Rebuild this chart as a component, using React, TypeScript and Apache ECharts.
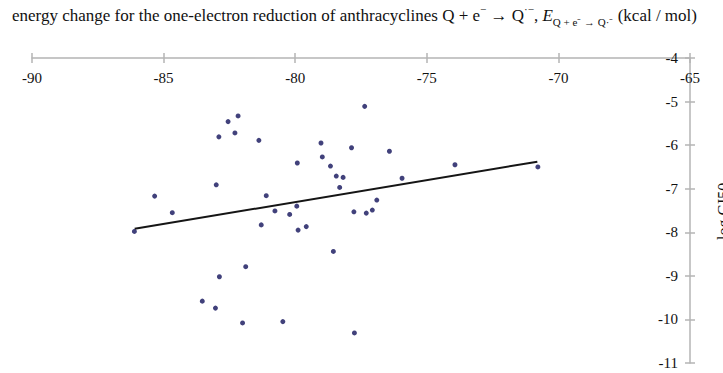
import React, { useEffect, useRef } from "react";
import * as echarts from "echarts";

// Scatter data: [energy change (kcal/mol), log GI50]
const energyValues: number[] = [
  -86.11, -85.34, -84.67, -82.17, -82.55, -82.29, -82.9, -81.38, -83.0, -81.1,
  -79.92, -79.94, -80.77, -80.21, -81.29, -79.89, -79.58, -81.88, -82.88, -83.53,
  -83.03, -82.0, -80.47, -77.36, -79.02, -78.97, -77.86, -76.42, -78.66, -78.44,
  -78.18, -78.31, -73.93, -70.78, -75.94, -76.9, -77.77, -77.3, -77.07, -78.55,
  -77.75,
];
const logGIValues: number[] = [
  -7.98, -7.17, -7.55, -5.33, -5.46, -5.72, -5.81, -5.89, -6.91, -7.16,
  -6.41, -7.4, -7.51, -7.59, -7.83, -7.95, -7.87, -8.79, -9.02, -9.58,
  -9.74, -10.08, -10.05, -5.11, -5.95, -6.27, -6.06, -6.14, -6.48, -6.71,
  -6.74, -6.97, -6.45, -6.5, -6.76, -7.26, -7.53, -7.56, -7.49, -8.44,
  -10.31,
];
// Trend line endpoints
const trendX: number[] = [-86.1, -70.8];
const trendY: number[] = [-7.92, -6.38];

const xTicks = { min: -90, max: -65, interval: 5 };
const yTicks = { min: -11, max: -4, interval: 1 };

const FONT = "'Liberation Serif', 'Times New Roman', serif";
const TXT = "#111111";

export default function App() {
  const ref = useRef<HTMLDivElement>(null);
  useEffect(() => {
    if (!ref.current) return;
    const chart = echarts.init(ref.current, null, { renderer: "svg" });
    const points = energyValues.map((x, i) => [x, logGIValues[i]]);
    const trend = trendX.map((x, i) => [x, trendY[i]]);
    const axisLineStyle = { color: "#b4b4b4", width: 1.5 };
    const labelStyle = { fontFamily: FONT, fontSize: 15, color: TXT };
    chart.setOption({
      animation: false,
      backgroundColor: "#ffffff",
      textStyle: { fontFamily: FONT },
      title: {
        text:
          "energy change for the one-electron reduction of anthracyclines Q + e{sup|−} → Q{sup|·−}, {it|E}{sub|Q + e⁻ → Q·⁻} (kcal / mol)",
        left: 12,
        top: 3,
        padding: 0,
        textStyle: {
          fontFamily: FONT,
          fontSize: 17,
          fontWeight: "normal",
          color: TXT,
          lineHeight: 24,
          rich: {
            sup: { fontFamily: FONT, fontSize: 11, color: TXT, verticalAlign: "top", lineHeight: 16 },
            sub: { fontFamily: FONT, fontSize: 11, color: TXT, verticalAlign: "bottom", lineHeight: 16 },
            it: { fontFamily: FONT, fontSize: 17, fontStyle: "italic", color: TXT },
          },
        },
      },
      grid: { left: 32, right: 33, top: 58, bottom: 10, containLabel: false },
      xAxis: [
        {
          type: "value",
          position: "top",
          min: xTicks.min,
          max: xTicks.max,
          interval: xTicks.interval,
          axisLine: { show: true, onZero: false, lineStyle: axisLineStyle },
          axisTick: { show: true, length: 5, lineStyle: axisLineStyle },
          axisLabel: { inside: true, margin: 12, ...labelStyle },
          splitLine: { show: false },
        },
        {
          type: "value",
          position: "top",
          min: xTicks.min,
          max: xTicks.max,
          interval: xTicks.interval,
          axisLine: { show: false, onZero: false },
          axisTick: { show: true, inside: true, length: 5, lineStyle: axisLineStyle },
          axisLabel: { show: false },
          splitLine: { show: false },
        },
      ],
      yAxis: [
        {
          type: "value",
          position: "right",
          min: yTicks.min,
          max: yTicks.max,
          interval: yTicks.interval,
          axisLine: { show: true, onZero: false, lineStyle: axisLineStyle },
          axisTick: { show: true, length: 5, lineStyle: axisLineStyle },
          axisLabel: { inside: true, margin: 12, ...labelStyle },
          splitLine: { show: false },
        },
        {
          type: "value",
          position: "right",
          min: yTicks.min,
          max: yTicks.max,
          interval: yTicks.interval,
          axisLine: { show: false, onZero: false },
          axisTick: { show: true, inside: true, length: 5, lineStyle: axisLineStyle },
          axisLabel: { show: false },
          splitLine: { show: false },
        },
      ],
      graphic: [
        {
          type: "text",
          x: 715,
          y: 240,
          rotation: Math.PI / 2,
          style: {
            text: "log GI50",
            fontFamily: FONT,
            fontSize: 16,
            fill: TXT,
            align: "left",
            verticalAlign: "top",
          },
        },
      ],
      series: [
        {
          type: "scatter",
          data: points,
          symbol: "circle",
          symbolSize: 5,
          itemStyle: { color: "#12125a" },
          z: 3,
        },
        {
          type: "line",
          data: trend,
          symbol: "none",
          lineStyle: { color: "#151515", width: 2 },
          z: 2,
        },
      ],
    });
    return () => chart.dispose();
  }, []);
  return (
    <div
      ref={ref}
      style={{ position: "fixed", left: 0, top: 0, width: 723, height: 373 }}
    />
  );
}
